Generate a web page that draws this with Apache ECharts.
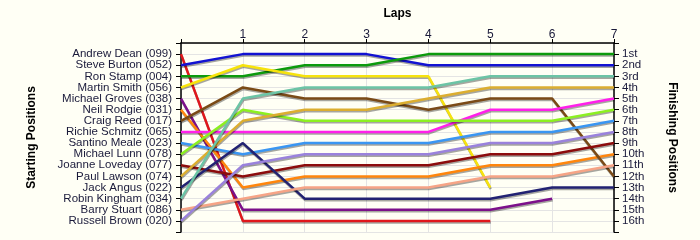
<!DOCTYPE html>
<html>
<head>
<meta charset="utf-8">
<script src="https://cdn.jsdelivr.net/npm/echarts@6/dist/echarts.min.js"></script>
<style>
html,body{margin:0;padding:0;background:#fffff5;}
#chart{width:700px;height:240px;}
</style>
</head>
<body>
<div id="chart"></div>
<script>
// Drivers in starting order (starting position = index + 1)
const drivers = [
  'Andrew Dean (099)', 'Steve Burton (052)', 'Ron Stamp (004)', 'Martin Smith (056)',
  'Michael Groves (038)', 'Neil Rodgie (031)', 'Craig Reed (017)', 'Richie Schmitz (065)',
  'Santino Meale (023)', 'Michael Lunn (078)', 'Joanne Loveday (077)', 'Paul Lawson (074)',
  'Jack Angus (022)', 'Robin Kingham (034)', 'Barry Stuart (086)', 'Russell Brown (020)'
];
const finishLabels = ['1st','2nd','3rd','4th','5th','6th','7th','8th','9th','10th','11th','12th','13th','14th','15th','16th'];
const laps = [0, 1, 2, 3, 4, 5, 6, 7];
const lapLabels = ['', '1', '2', '3', '4', '5', '6', '7'];

// Position of each driver at lap 0..7 (shorter arrays = retired)
const posAndrewDean    = [1, 16, 16, 16, 16, 16];
const posSteveBurton   = [2, 1, 1, 1, 2, 2, 2, 2];
const posRonStamp      = [3, 3, 2, 2, 1, 1, 1, 1];
const posMartinSmith   = [4, 2, 3, 3, 3, 13];
const posMichaelGroves = [5, 15, 15, 15, 15, 15, 14];
const posNeilRodgie    = [6, 13, 12, 12, 12, 11, 11, 10];
const posCraigReed     = [7, 4, 5, 5, 6, 5, 5, 12];
const posRichieSchmitz = [8, 8, 8, 8, 8, 6, 6, 5];
const posSantinoMeale  = [9, 10, 9, 9, 9, 8, 8, 7];
const posMichaelLunn   = [10, 6, 7, 7, 7, 7, 7, 6];
const posJoanneLoveday = [11, 12, 11, 11, 11, 10, 10, 9];
const posPaulLawson    = [12, 7, 6, 6, 5, 4, 4, 4];
const posJackAngus     = [13, 9, 14, 14, 14, 14, 13, 13];
const posRobinKingham  = [14, 5, 4, 4, 4, 3, 3, 3];
const posBarryStuart   = [15, 14, 13, 13, 13, 12, 12, 11];
const posRussellBrown  = [16, 11, 10, 10, 10, 9, 9, 8];

const positions = [
  posAndrewDean, posSteveBurton, posRonStamp, posMartinSmith, posMichaelGroves,
  posNeilRodgie, posCraigReed, posRichieSchmitz, posSantinoMeale, posMichaelLunn,
  posJoanneLoveday, posPaulLawson, posJackAngus, posRobinKingham, posBarryStuart, posRussellBrown
];
const colors = [
  '#e0161c', '#1212d2', '#0c9a0c', '#f7e30c', '#7c108a', '#ff860c', '#7a4a16', '#ff20ea',
  '#3a96f2', '#8cf020', '#8c0c0c', '#dcae30', '#222272', '#6cc4a6', '#f6a486', '#9a82dc'
];

const series = positions.map((p, i) => ({
  name: drivers[i],
  type: 'line',
  symbol: 'none',
  data: p.map((v, k) => [laps[k], v]),
  lineStyle: {
    width: 2.5,
    color: colors[i],
    shadowColor: 'rgba(0,0,0,0.35)',
    shadowOffsetY: 1.5,
    shadowOffsetX: 0.5,
    shadowBlur: 0
  },
  itemStyle: { color: colors[i] },
  z: 2
}));

const chart = echarts.init(document.getElementById('chart'), null, { renderer: 'canvas' });
const font = 'Tahoma, "Liberation Sans", Arial, sans-serif';
chart.setOption({
  animation: false,
  backgroundColor: '#fffff5',
  textStyle: { fontFamily: font },
  grid: { left: 181, right: 86, top: 43, bottom: 8 },
  xAxis: {
    type: 'value', position: 'top', min: 0, max: 7, interval: 1,
    name: 'Laps', nameLocation: 'middle', nameGap: 23,
    nameTextStyle: { fontWeight: 'bold', fontSize: 12, color: '#000', fontFamily: font },
    axisLine: { lineStyle: { color: '#000', width: 1.5 } },
    axisTick: { length: 4, lineStyle: { color: '#000' } },
    axisLabel: { formatter: v => lapLabels[v] || '', fontSize: 12, color: '#1a1a3a', margin: 2, fontFamily: font },
    splitLine: { show: true, lineStyle: { color: '#e4e4e4', width: 1 } }
  },
  yAxis: [
    {
      type: 'value', inverse: true, min: 0, max: 17, interval: 1, position: 'left',
      name: 'Starting Positions', nameLocation: 'middle', nameGap: 143, nameRotate: 90,
      nameTextStyle: { fontWeight: 'bold', fontSize: 12, color: '#000', fontFamily: font },
      axisLine: { show: true, lineStyle: { color: '#000', width: 1.5 } },
      axisTick: { length: 5, lineStyle: { color: '#000' } },
      axisLabel: { formatter: v => drivers[v - 1] || '', fontSize: 11.5, color: '#1a1a3a', margin: 9, fontFamily: font },
      splitLine: { show: true, lineStyle: { color: '#e4e4e4', width: 1 } }
    },
    {
      type: 'value', inverse: true, min: 0, max: 17, interval: 1, position: 'right',
      name: 'Finishing Positions', nameLocation: 'middle', nameGap: 52, nameRotate: -90,
      nameTextStyle: { fontWeight: 'bold', fontSize: 12, color: '#000', fontFamily: font },
      axisLine: { show: true, lineStyle: { color: '#000', width: 1.5 } },
      axisTick: { length: 5, lineStyle: { color: '#000' } },
      axisLabel: { formatter: v => finishLabels[v - 1] || '', fontSize: 11.5, color: '#1a1a3a', margin: 8, fontFamily: font },
      splitLine: { show: false }
    }
  ],
  series: series
});
</script>
</body>
</html>
